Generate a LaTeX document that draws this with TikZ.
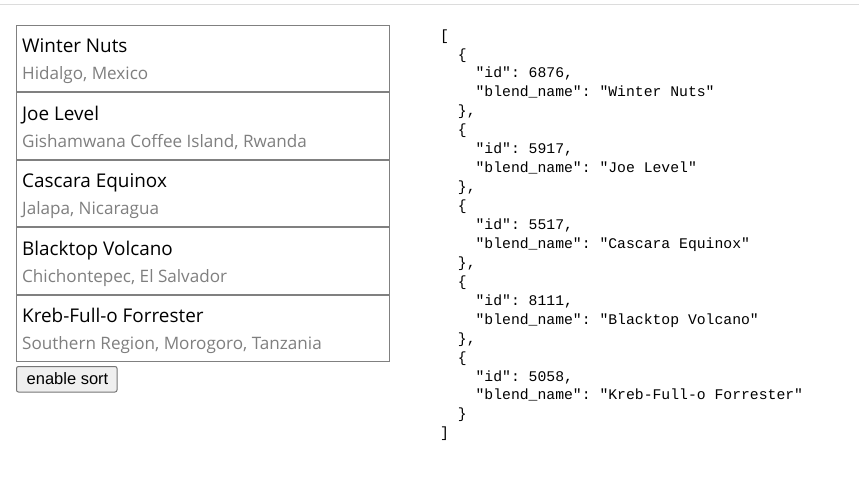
\documentclass[tikz,border=0pt]{standalone}
\usepackage{fontspec}
\setmainfont{Open Sans}
\newfontfamily\jsonfont{Liberation Mono}
\newfontfamily\btnfont{Liberation Sans}
\definecolor{boxgray}{HTML}{808080}
\definecolor{subgray}{HTML}{7F7F7F}
\definecolor{rulegray}{HTML}{DCDCDC}
\definecolor{btnfill}{HTML}{EFEFEF}
\definecolor{btnedge}{HTML}{767676}
\tikzset{
  itembox/.style={draw=boxgray, line width=1pt, fill=white},
  titletext/.style={anchor=base west, inner sep=0pt, font=\fontsize{18.9}{22}\selectfont, text=black},
  subtext/.style={anchor=base west, inner sep=0pt, font=\fontsize{17.1}{20}\selectfont, text=subgray},
  jsontext/.style={anchor=base west, inner sep=0pt, font=\jsonfont\fontsize{14.75}{18}\selectfont\frenchspacing, text=black},
  btnbox/.style={draw=btnedge, fill=btnfill, line width=1pt, rounded corners=2pt},
  btntext/.style={anchor=base west, inner sep=0pt, font=\btnfont\fontsize{16.5}{20}\selectfont, text=black}
}
\begin{document}
\begin{tikzpicture}[x=1pt,y=-1pt]
\useasboundingbox (0,0) rectangle (859,498);
\fill[white] (0,0) rectangle (859,498);
\draw[rulegray, line width=1pt] (0,4.5) -- (859,4.5);
% list items
\foreach \i/\t/\s in {0/Winter Nuts/{Hidalgo, Mexico},
  1/Joe Level/{Gishamwana Coffee Island, Rwanda},
  2/Cascara Equinox/{Jalapa, Nicaragua},
  3/Blacktop Volcano/{Chichontepec, El Salvador},
  4/Kreb-Full-o Forrester/{Southern Region, Morogoro, Tanzania}}{
  \pgfmathsetmacro\top{25+67.4*\i}
  \draw[itembox] (16.5,\top+0.5) rectangle (389.5,\top+66.9);
  \node[titletext] (title\i) at (22,\top+27.8) {\t};
  \node[subtext] (sub\i) at (22,\top+54.8) {\s};
}
% button
\draw[btnbox] (16.5,366.5) rectangle (117,392);
\node[btntext] (btn) at (26.5,384.3) {enable sort};
% json
\def\cw{8.85}
\def\lh{18.94}
\foreach \k/\ind/\txt in {
 0/0/{[},
 1/1/{\{},
 2/2/{"id": 6876,},
 3/2/{"blend\_name": "Winter Nuts"},
 4/1/{\},},
 5/1/{\{},
 6/2/{"id": 5917,},
 7/2/{"blend\_name": "Joe Level"},
 8/1/{\},},
 9/1/{\{},
 10/2/{"id": 5517,},
 11/2/{"blend\_name": "Cascara Equinox"},
 12/1/{\},},
 13/1/{\{},
 14/2/{"id": 8111,},
 15/2/{"blend\_name": "Blacktop Volcano"},
 16/1/{\},},
 17/1/{\{},
 18/2/{"id": 5058,},
 19/2/{"blend\_name": "Kreb-Full-o Forrester"},
 20/1/{\}},
 21/0/{]}}{
  \node[jsontext] (json\k) at ({440+2*\cw*\ind},{40.1+\lh*\k}) {\txt};
}
\end{tikzpicture}
\end{document}
